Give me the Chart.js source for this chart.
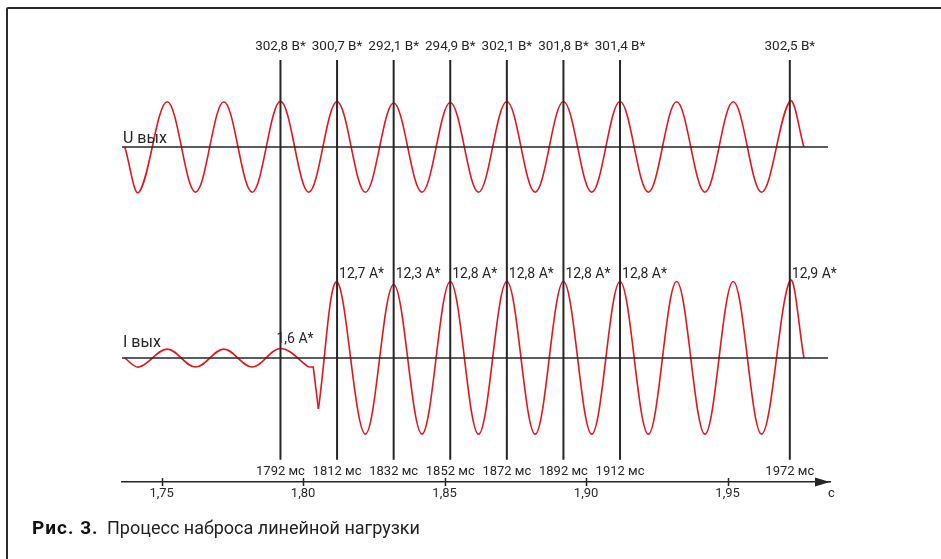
<!DOCTYPE html>
<html>
<head>
<meta charset="utf-8">
<script src="https://cdn.jsdelivr.net/npm/chart.js@4.4.1/dist/chart.umd.min.js"></script>
<style>
    html, body { margin: 0; padding: 0; background: #fff; overflow: hidden; }
    #page { position: relative; width: 941px; height: 559px; overflow: hidden; }
    #frame {
        position: absolute; left: 6px; top: 7px; width: 1000px; height: 700px;
        border: 2px solid #2b2b2b; border-radius: 2px; box-sizing: border-box;
    }
    #chart { position: absolute; left: 0; top: 0; }
    #caption {
        position: absolute; left: 32px; top: 516px;
        font-family: Roboto, sans-serif; font-size: 18px; color: #222; white-space: nowrap;
    }
    #caption b { font-size: 19px; letter-spacing: 1px; margin-right: 4px; color: #111; }
</style>
</head>
<body>
<div id="page">
    <div id="frame"></div>
    <canvas id="chart" width="941" height="559"></canvas>
    <div id="caption"><b>Рис. 3.</b> Процесс наброса линейной нагрузки</div>
</div>
<script>
// moments marked with vertical lines, s
const markTimes = [1.792, 1.812, 1.832, 1.852, 1.872, 1.892, 1.912, 1.972]
// values written at the marks
const uMarkValues = [302.8, 300.7, 292.1, 294.9, 302.1, 301.8, 301.4, 302.5]
const iMarkValues = [1.6, 12.7, 12.3, 12.8, 12.8, 12.8, 12.8, 12.9]

// output voltage, V (start, peaks and troughs, end)
const uTimes = [1.737, 1.742, 1.752, 1.762, 1.772, 1.782, 1.792, 1.802, 1.812, 1.822, 1.832,
    1.842, 1.852, 1.862, 1.872, 1.882, 1.892, 1.902, 1.912, 1.922, 1.932, 1.942, 1.952,
    1.962, 1.972, 1.977]
const uValues = [0, -300, 300, -300, 300, -300, 302.8, -300, 300.7, -300, 292.1,
    -300, 294.9, -300, 302.1, -300, 301.8, -300, 301.4, -300, 300, -300, 300,
    -300, 302.5, 0]

// output current, A: idle part, load step, loaded part
const iIdleTimes = [1.737, 1.742, 1.752, 1.762, 1.772, 1.782, 1.792, 1.802]
const iIdleValues = [0, -1.5, 1.5, -1.5, 1.5, -1.5, 1.6, -1.5]
const iStepTimes = [1.802, 1.8036, 1.8054]
const iStepValues = [-1.5, -1.5, -8.5]
const iLoadTimes = [1.8054, 1.812, 1.822, 1.832, 1.842, 1.852, 1.862, 1.872, 1.882, 1.892,
    1.902, 1.912, 1.922, 1.932, 1.942, 1.952, 1.962, 1.972, 1.977]
const iLoadValues = [-8.5, 12.7, -12.7, 12.3, -12.7, 12.8, -12.7, 12.8, -12.7, 12.8,
    -12.7, 12.8, -12.7, 12.8, -12.7, 12.8, -12.7, 12.9, 0]

// time axis
const xMin = 1.736
const xMax = 1.9862
const xTicks = [1.75, 1.80, 1.85, 1.90, 1.95]
const baseLineEnd = 1.9855

const RED = '#e3151d'
const DARK = '#262626'
const FONT = 'Roboto, sans-serif'
const WAVE_TENSION = 0.36

function comma(v, digits) {
    return v.toFixed(digits).replace('.', ',')
}

function points(times, values) {
    return times.map((t, i) => ({ x: t, y: values[i] }))
}

const datasets = []

// zero lines of both signals
datasets.push({ data: [{ x: xMin, y: 0 }, { x: baseLineEnd, y: 0 }], yAxisID: 'yU', borderColor: DARK, borderWidth: 1.5 })
datasets.push({ data: [{ x: xMin, y: 0 }, { x: baseLineEnd, y: 0 }], yAxisID: 'yI', borderColor: DARK, borderWidth: 1.5 })

// vertical marks, drawn on the current scale from its top down to the time labels
for (const t of markTimes) {
    datasets.push({ data: [{ x: t, y: 49.8 }, { x: t, y: -17 }], yAxisID: 'yI', borderColor: DARK, borderWidth: 2 })
}

// the signals
datasets.push({ data: points(uTimes, uValues), yAxisID: 'yU', borderColor: RED, borderWidth: 1.6, tension: WAVE_TENSION })
datasets.push({ data: points(iIdleTimes, iIdleValues), yAxisID: 'yI', borderColor: RED, borderWidth: 1.6, tension: WAVE_TENSION })
datasets.push({ data: points(iStepTimes, iStepValues), yAxisID: 'yI', borderColor: RED, borderWidth: 1.6, tension: 0 })
datasets.push({ data: points(iLoadTimes, iLoadValues), yAxisID: 'yI', borderColor: RED, borderWidth: 1.6, tension: WAVE_TENSION })

// texts, arrow and tick marks
const annotations = {
    id: 'annotations',
    afterDraw(chart) {
        const ctx = chart.ctx
        const x = chart.scales.x
        const yU = chart.scales.yU
        const yI = chart.scales.yI
        const area = chart.chartArea
        ctx.save()
        ctx.fillStyle = DARK
        ctx.textBaseline = 'middle'

        // voltage values above the marks
        ctx.font = '13.5px ' + FONT
        ctx.textAlign = 'center'
        markTimes.forEach((t, i) => {
            ctx.fillText(comma(uMarkValues[i], 1) + ' В*', x.getPixelForValue(t), area.top - 13)
        })

        // current values near the peaks
        ctx.font = '14px ' + FONT
        ctx.textAlign = 'left'
        const topPeak = Math.max(...iMarkValues)
        markTimes.forEach((t, i) => {
            const v = iMarkValues[i]
            const px = x.getPixelForValue(t) + (i === 0 ? -4 : 2)
            const py = i === 0 ? yI.getPixelForValue(v) - 9 : yI.getPixelForValue(topPeak) - 6
            ctx.fillText(comma(v, 1) + ' А*', px, py)
        })

        // time of each mark
        ctx.font = '13px ' + FONT
        ctx.textAlign = 'center'
        markTimes.forEach((t) => {
            ctx.fillText(Math.round(t * 1000) + ' мс', x.getPixelForValue(t), area.bottom - 10)
        })

        // signal names
        ctx.font = '16px ' + FONT
        ctx.textAlign = 'left'
        ctx.textBaseline = 'alphabetic'
        ctx.fillText('U вых', x.left + 1, yU.getPixelForValue(0) - 4)
        ctx.fillText('I вых', x.left + 1, yI.getPixelForValue(0) - 11)

        // unit of the time axis
        ctx.font = '13px ' + FONT
        ctx.fillText('с', x.right - 2, area.bottom + 15)

        // tick marks across the axis
        ctx.strokeStyle = DARK
        ctx.lineWidth = 1.5
        for (const t of xTicks) {
            const px = Math.round(x.getPixelForValue(t)) + 0.5
            ctx.beginPath()
            ctx.moveTo(px, area.bottom - 4)
            ctx.lineTo(px, area.bottom + 4)
            ctx.stroke()
        }

        // arrow head
        ctx.beginPath()
        ctx.moveTo(x.right, area.bottom)
        ctx.lineTo(x.right - 15, area.bottom - 4.5)
        ctx.lineTo(x.right - 15, area.bottom + 4.5)
        ctx.closePath()
        ctx.fill()
        ctx.restore()
    }
}

new Chart(document.getElementById('chart'), {
    type: 'line',
    data: { datasets: datasets },
    options: {
        responsive: false,
        animation: false,
        devicePixelRatio: 1,
        elements: { point: { radius: 0 }, line: { fill: false } },
        layout: { padding: { left: 122, right: 111, top: 60, bottom: 47 } },
        plugins: { legend: { display: false }, tooltip: { enabled: false } },
        scales: {
            x: {
                type: 'linear',
                min: xMin,
                max: xMax,
                afterFit: (axis) => { axis.height = 30 },
                afterBuildTicks: (axis) => { axis.ticks = xTicks.map((v) => ({ value: v })) },
                border: { display: true, color: DARK, width: 1.5 },
                grid: { display: false, drawTicks: false },
                ticks: {
                    padding: 4,
                    color: '#2a2a2a',
                    font: { family: FONT, size: 13 },
                    callback: (v) => comma(v, 2)
                }
            },
            yU: { type: 'linear', display: false, min: -2223, max: 577 },
            yI: { type: 'linear', display: false, min: -20.7, max: 49.8 }
        }
    },
    plugins: [annotations]
})
</script>
</body>
</html>
